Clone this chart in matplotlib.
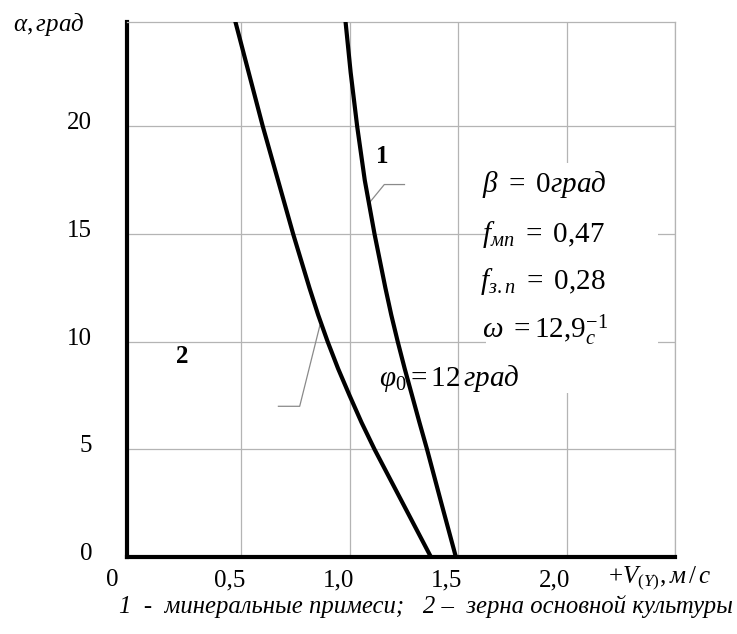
import matplotlib
matplotlib.use("Agg")
import matplotlib.pyplot as plt
import matplotlib.transforms as mtransforms
from matplotlib.patches import Rectangle

plt.rcParams["font.family"] = ["Liberation Serif", "DejaVu Serif"]
plt.rcParams["mathtext.fontset"] = "custom"
plt.rcParams["mathtext.rm"] = "Liberation Serif"
plt.rcParams["mathtext.it"] = "Liberation Serif:italic"
plt.rcParams["mathtext.bf"] = "Liberation Serif:bold"

# angle alpha, degrees
alpha = [0, 2.5, 5, 6.25, 7.5, 8.75, 10, 11.25, 12.5, 15, 17.5, 20, 22.5, 25]
# 1 - mineral impurities
v_mineral = [1.49, 1.423, 1.357, 1.322, 1.288, 1.254, 1.222, 1.192, 1.165, 1.115, 1.07, 1.035, 1.005, 0.98]
# 2 - grains of the main crop
v_grain = [1.375, 1.245, 1.115, 1.055, 1.0, 0.947, 0.899, 0.855, 0.815, 0.74, 0.67, 0.60, 0.535, 0.47]

x_ticks = [0, 0.5, 1.0, 1.5, 2.0]
x_tick_labels = ["0", "0,5", "1,0", "1,5", "2,0"]
y_ticks = [0, 5, 10, 15, 20]
y_tick_labels = ["0", "5", "10", "15", "20"]

fig = plt.figure(figsize=(7.37, 6.34), dpi=100)
ax = fig.add_axes([127 / 737, 1 - 557 / 634, (675 - 127) / 737, (557 - 22) / 634])
ax.set_xlim(-0.026, 2.5)
ax.set_ylim(0, 24.85)

grid_col = "#b4b4b4"
ax.set_axisbelow(True)
ax.grid(True, color=grid_col, linewidth=0.9)
ax.set_xticks(x_ticks + [2.5])
ax.set_xticklabels(x_tick_labels + [""])
ax.set_yticks(y_ticks)
ax.set_yticklabels(y_tick_labels)
ax.xaxis.get_gridlines()[0].set_visible(False)
ax.tick_params(length=0, labelsize=18)
ax.tick_params(axis="x", pad=9)
ax.tick_params(axis="y", pad=25)

for lab in ax.get_xticklabels():
    lab.set_horizontalalignment("right")
    dx = 3 / 72 if lab.get_text() != "0" else -10 / 72
    lab.set_transform(lab.get_transform() + mtransforms.ScaledTranslation(dx, 0, fig.dpi_scale_trans))
for lab in ax.get_yticklabels():
    lab.set_transform(lab.get_transform() + mtransforms.ScaledTranslation(0, 4 / 72, fig.dpi_scale_trans))

for side in ("left", "bottom"):
    ax.spines[side].set_linewidth(3.0)
    ax.spines[side].set_color("black")
for side in ("top", "right"):
    ax.spines[side].set_linewidth(0.9)
    ax.spines[side].set_color(grid_col)

# white panel behind the parameter block
ax.add_patch(Rectangle((1.63, 7.6), 0.79, 10.7, facecolor="white", edgecolor="none", zorder=1))

ax.plot(v_mineral, alpha, color="black", linewidth=3.0, zorder=3, solid_capstyle="butt", solid_joinstyle="round")
ax.plot(v_grain, alpha, color="black", linewidth=3.0, zorder=3, solid_capstyle="butt", solid_joinstyle="round")

# leader lines for the curve numbers
ax.plot([1.095, 1.16, 1.253], [16.5, 17.3, 17.3], color="#8a8a8a", linewidth=0.9, zorder=2)
ax.plot([0.863, 0.77, 0.672], [10.75, 7.0, 7.0], color="#8a8a8a", linewidth=0.9, zorder=2)

ax.text(1.15, 18.6, "1", fontsize=18, fontweight="bold", ha="center", va="center", zorder=4)
ax.text(0.23, 9.3, "2", fontsize=18, fontweight="bold", ha="center", va="center", zorder=4)

fs = 21
ax.text(1.61, 17.3, r"$\beta\ =\ 0\mathit{град}$", fontsize=fs, ha="left", va="center", zorder=4)
ax.text(1.61, 15.0, r"$f_{\mathit{мп}}\ =\ 0{,}47$", fontsize=fs, ha="left", va="center", zorder=4)
ax.text(1.60, 12.8, r"$f_{\mathit{з.п}}\ =\ 0{,}28$", fontsize=fs, ha="left", va="center", zorder=4)
ax.text(1.61, 10.55, r"$\omega\ = 12{,}9_{\mathit{с}}^{-1}$", fontsize=fs, ha="left", va="center", zorder=4)
ax.text(1.137, 8.3, r"$\varphi_0 = 12\,\mathit{град}$", fontsize=fs, ha="left", va="center", zorder=4)

fig.text(13 / 737, 1 - 25 / 634, r"$\alpha, \mathit{град}$", fontsize=18, ha="left", va="center")
fig.text(608 / 737, 1 - 578 / 634, r"$+V_{(Y)}, \mathit{м}\,/\,\mathit{с}$", fontsize=18, ha="left", va="center")
fig.text(426 / 737, 1 - 607 / 634, "1  -  минеральные примеси;   2 –  зерна основной культуры",
         fontsize=17.8, fontstyle="italic", ha="center", va="center")

fig.savefig("out.png", dpi=100)
